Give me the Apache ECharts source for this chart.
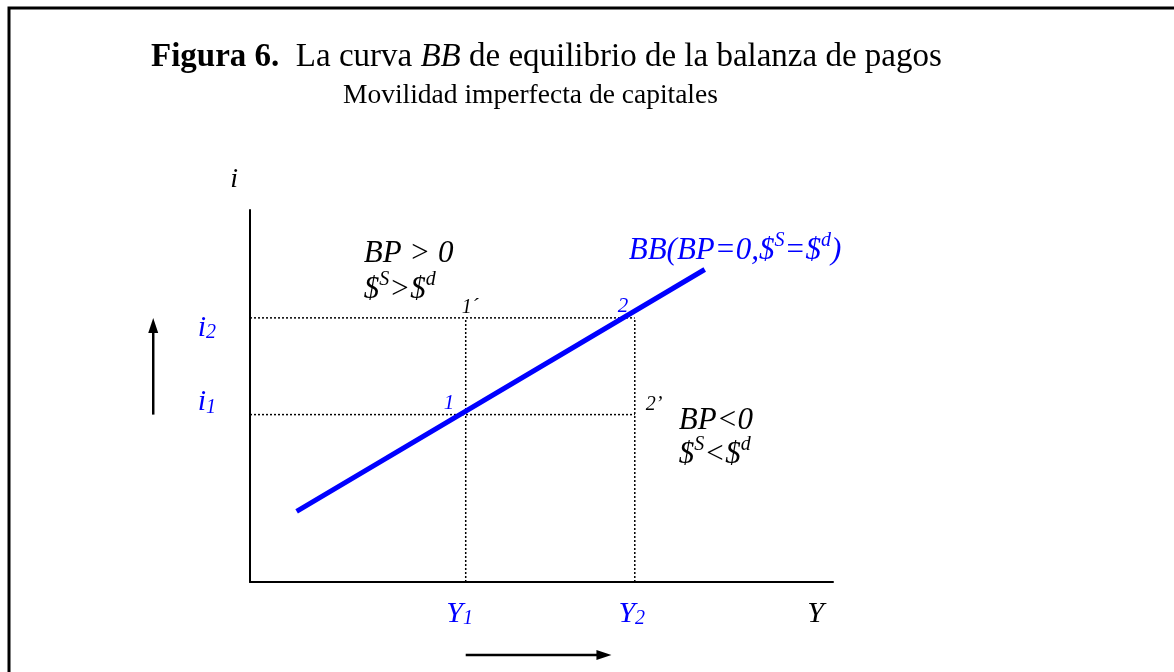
<!DOCTYPE html>
<html>
<head>
<meta charset="utf-8">
<script src="https://cdn.jsdelivr.net/npm/echarts@6/dist/echarts.min.js"></script>
<style>
  html, body { margin: 0; padding: 0; background: #fff; }
  #chart { width: 1174px; height: 672px; }
</style>
</head>
<body>
<div id="chart"></div>
<script>
// escala 0-100 en ambos ejes (Y renta, i tipo de interes)
const yLevels = [37, 66]        // Y1, Y2
const iLevels = [45, 71]        // i1, i2
const yNamePos = 97             // donde va la letra Y bajo el eje
const bbCurve = [[8, 19], [78, 84]]
const arrowIx = -16.6           // flecha vertical, a la izquierda del eje
const arrowYy = -19.6           // flecha horizontal, bajo el eje
const arrowYend = 62

const serif = "'Liberation Serif', 'Times New Roman', serif"
const blue = '#0000ff'

const [Y1, Y2] = yLevels
const [i1, i2] = iLevels

const chart = echarts.init(document.getElementById('chart'))

const dotted = {
  color: '#000',
  width: 1.5,
  type: [2, 2]
}

function dottedSeries(points) {
  return {
    type: 'line',
    data: points,
    symbol: 'none',
    silent: true,
    z: 1,
    lineStyle: dotted
  }
}

function richSet(color, size) {
  return {
    t: { fontFamily: serif, fontStyle: 'italic', fontSize: size, lineHeight: size + 9, color: color },
    sp: { fontFamily: serif, fontStyle: 'italic', fontSize: 20, lineHeight: 20, color: color, verticalAlign: 'top' }
  }
}

function note(value, text, offset, color, size) {
  color = color || '#000'
  size = size || 31
  return {
    value: value,
    label: {
      show: true,
      position: 'right',
      distance: 0,
      align: 'left',
      verticalAlign: 'middle',
      offset: offset,
      formatter: text,
      color: color,
      textBorderWidth: 0,
      fontFamily: serif,
      fontStyle: 'italic',
      fontSize: size,
      rich: richSet(color, size)
    }
  }
}

chart.setOption({
  animation: false,
  backgroundColor: '#fff',
  title: [{
    text: '{b|Figura 6.}{n|  La curva }{it|BB}{n| de equilibrio de la balanza de pagos}',
    left: 146,
    top: 36,
    textStyle: {
      fontWeight: 'normal',
      rich: {
        b: { fontFamily: serif, fontWeight: 'bold', fontSize: 33, color: '#000' },
        n: { fontFamily: serif, fontWeight: 'normal', fontSize: 33, color: '#000' },
        it: { fontFamily: serif, fontWeight: 'normal', fontStyle: 'italic', fontSize: 33, color: '#000' }
      }
    }
  }, {
    text: 'Movilidad imperfecta de capitales',
    left: 338,
    top: 77,
    textStyle: { fontFamily: serif, fontWeight: 'normal', fontSize: 27.5, color: '#000' }
  }],
  grid: {
    left: 250,
    top: 210,
    width: 583,
    height: 372
  },
  xAxis: {
    type: 'value',
    min: 0,
    max: 100,
    splitLine: { show: false },
    axisTick: { show: false },
    axisLine: { show: true, lineStyle: { color: '#000', width: 2 } },
    axisLabel: {
      customValues: [Y1, Y2, yNamePos],
      margin: 17,
      formatter: function (v) {
        if (v === Y1) return '{b1|Y}{s1|1}'
        if (v === Y2) return '{b2|Y}{s2|2}'
        return '{k|Y}'
      },
      rich: {
        b1: { fontFamily: serif, fontStyle: 'italic', fontSize: 30, color: blue },
        s1: { fontFamily: serif, fontStyle: 'italic', fontSize: 20, color: blue, verticalAlign: 'bottom', padding: [0, 12, 0, 0] },
        b2: { fontFamily: serif, fontStyle: 'italic', fontSize: 30, color: blue },
        s2: { fontFamily: serif, fontStyle: 'italic', fontSize: 20, color: blue, verticalAlign: 'bottom', padding: [0, 6, 0, 0] },
        k: { fontFamily: serif, fontStyle: 'italic', fontSize: 30, color: '#000' }
      }
    }
  },
  yAxis: {
    type: 'value',
    min: 0,
    max: 100,
    name: 'i',
    nameLocation: 'end',
    nameGap: 16,
    nameTextStyle: {
      fontFamily: serif,
      fontStyle: 'italic',
      fontSize: 28,
      color: '#000',
      align: 'right',
      padding: [0, 12, 0, 0]
    },
    splitLine: { show: false },
    axisTick: { show: false },
    axisLine: { show: true, lineStyle: { color: '#000', width: 2 } },
    axisLabel: {
      customValues: [i1, i2],
      margin: 34,
      formatter: function (v) {
        return v === i1 ? '{b1|i}{s1|1}' : '{b2|i}{s2|2}'
      },
      rich: {
        // i2 queda un poco por debajo de su linea, i1 un poco por encima
        b1: { fontFamily: serif, fontStyle: 'italic', fontSize: 30, color: blue, padding: [0, 0, 24, 0] },
        s1: { fontFamily: serif, fontStyle: 'italic', fontSize: 20, color: blue, verticalAlign: 'bottom', padding: [0, 0, 24, 0] },
        b2: { fontFamily: serif, fontStyle: 'italic', fontSize: 30, color: blue, padding: [20, 0, 0, 0] },
        s2: { fontFamily: serif, fontStyle: 'italic', fontSize: 20, color: blue, verticalAlign: 'bottom', padding: [20, 0, 0, 0] }
      }
    }
  },
  series: [
    dottedSeries([[0, i2], [Y2, i2]]),
    dottedSeries([[0, i1], [Y2, i1]]),
    dottedSeries([[Y1, 0], [Y1, i2]]),
    dottedSeries([[Y2, 0], [Y2, i2]]),
    {
      name: 'BB',
      type: 'line',
      symbol: 'none',
      z: 3,
      lineStyle: { color: blue, width: 5 },
      data: bbCurve
    },
    {
      type: 'scatter',
      symbolSize: 0,
      silent: true,
      z: 4,
      itemStyle: { opacity: 1 },
      emphasis: { disabled: true },
      data: [
        note(bbCurve[1], '{t|BB(BP=0,$}{sp|S}{t|=$}{sp|d}{t|)}', [-76, -19], blue),
        note([Y1, i1], '1', [-22, -11], blue, 21),
        note([Y2, i2], '2', [-17, -11], blue, 21),
        note([Y1, i2], '1´', [-4, -10], '#000', 20),
        note([Y2, i1], '2’', [11, -10], '#000', 20),
        note([Y1, i2], '{t|BP > 0}', [-102, -64]),
        note([Y1, i2], '{t|$}{sp|S}{t|>$}{sp|d}', [-102, -28]),
        note([Y2, i1], '{t|BP<0}', [44, 6]),
        note([Y2, i1], '{t|$}{sp|S}{t|<$}{sp|d}', [44, 40])
      ]
    }
  ]
})

// flechas y marco
const p = (v) => chart.convertToPixel({ gridIndex: 0 }, v)
const aTop = p([arrowIx, i2]), aBot = p([arrowIx, i1])
const bL = p([Y1, arrowYy]), bR = p([arrowYend, arrowYy])

chart.setOption({
  graphic: [
    {
      type: 'rect',
      shape: { x: 9, y: 8, width: 1400, height: 900 },
      style: { fill: 'none', stroke: '#000', lineWidth: 3 }
    },
    {
      type: 'line',
      shape: { x1: aBot[0], y1: aBot[1], x2: aTop[0], y2: aTop[1] + 12 },
      style: { stroke: '#000', lineWidth: 2.5 }
    },
    {
      type: 'polygon',
      shape: { points: [[aTop[0], aTop[1]], [aTop[0] - 5, aTop[1] + 15], [aTop[0] + 5, aTop[1] + 15]] },
      style: { fill: '#000' }
    },
    {
      type: 'line',
      shape: { x1: bL[0], y1: bL[1], x2: bR[0] - 12, y2: bR[1] },
      style: { stroke: '#000', lineWidth: 2.5 }
    },
    {
      type: 'polygon',
      shape: { points: [[bR[0], bR[1]], [bR[0] - 15, bR[1] - 5], [bR[0] - 15, bR[1] + 5]] },
      style: { fill: '#000' }
    }
  ]
})
</script>
</body>
</html>
